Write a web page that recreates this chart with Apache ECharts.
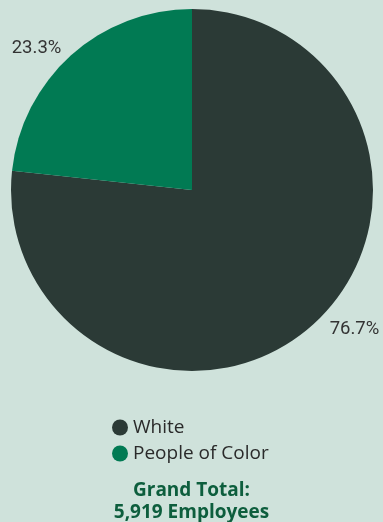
<!DOCTYPE html>
<html>
<head>
<meta charset="utf-8">
<script src="https://cdn.jsdelivr.net/npm/echarts@6/dist/echarts.min.js"></script>
<style>
  html, body { margin: 0; padding: 0; background: #cfe2db; }
  #chart { width: 383px; height: 522px; }
</style>
</head>
<body>
<div id="chart"></div>
<script>
const categories = ["White", "People of Color"];
const percentages = [76.7, 23.3];
const sliceColors = ["#2b3a36", "#017a53"];
const totalLines = ["Grand Total:", "5,919 Employees"];

const chart = echarts.init(document.getElementById("chart"));

const option = {
  backgroundColor: "#cfe2db",
  color: sliceColors,
  legend: {
    orient: "vertical",
    left: 107,
    top: 413,
    icon: "circle",
    itemWidth: 16,
    itemHeight: 16,
    itemGap: 7,
    textStyle: {
      color: "#2a2a2a",
      fontSize: 19,
      fontFamily: "Open Sans",
    },
    data: categories,
  },
  title: {
    text: totalLines.join("\n"),
    left: "center",
    top: 475,
    textStyle: {
      color: "#0d5e3d",
      fontSize: 19,
      fontWeight: "bold",
      fontFamily: "Open Sans",
      lineHeight: 22,
    },
  },
  series: [
    {
      type: "pie",
      center: [192, 190],
      radius: 181,
      startAngle: 90,
      clockwise: true,
      silent: true,
      data: categories.map((name, i) => ({ name, value: percentages[i] })),
      label: {
        show: true,
        position: "outside",
        formatter: (p) => p.value.toFixed(1) + "%",
        color: "#333",
        fontSize: 18.5,
        fontFamily: "Roboto",
        distanceToLabelLine: 2,
        overflow: "none",
        bleedMargin: 0,
      },
      labelLine: { show: false, length: 10, length2: 2 },
      labelLayout: (params) =>
        params.dataIndex === 0 ? { dx: 6, dy: -3 } : { dx: 1, dy: 0 },
    },
  ],
};

chart.setOption(option);
</script>
</body>
</html>
